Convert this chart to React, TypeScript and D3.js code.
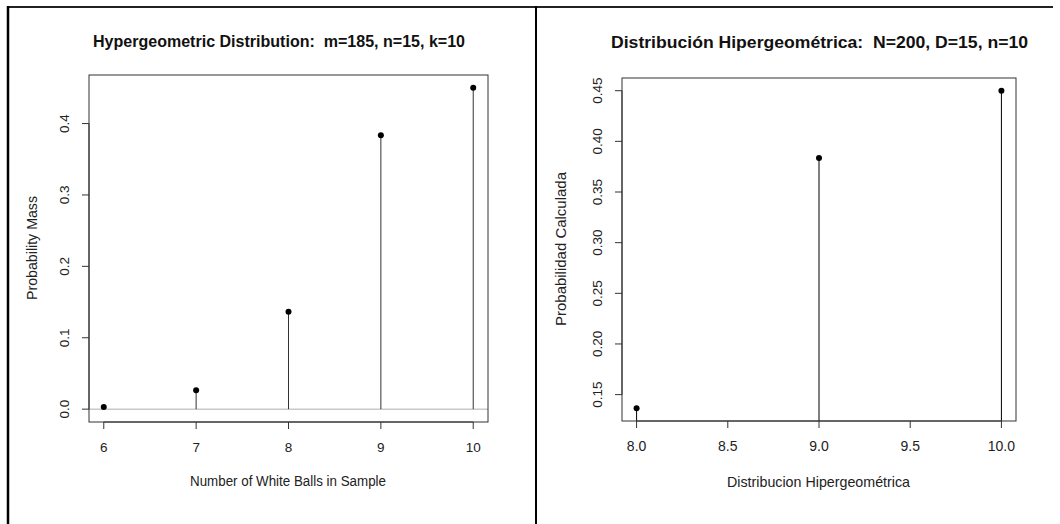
import React from 'react';
import * as d3 from 'd3';

// left panel data (hypergeometric pmf)
const leftX = [6, 7, 8, 9, 10];
const leftP = [0.0031, 0.0266, 0.1365, 0.3835, 0.45];
const leftXTicks = [6, 7, 8, 9, 10];
const leftYTicks = [0, 0.1, 0.2, 0.3, 0.4];

// right panel data
const rightX = [8, 9, 10];
const rightP = [0.1365, 0.3835, 0.45];
const rightXTicks = [8, 8.5, 9, 9.5, 10];
const rightYTicks = [0.15, 0.2, 0.25, 0.3, 0.35, 0.4, 0.45];

const FONT = '"Liberation Sans", Arial, sans-serif';

type Lab = { text: string; x: number; y: number; size: number; len: number };

type PanelProps = {
  box: { x0: number; x1: number; y0: number; y1: number };
  xs: number[];
  ps: number[];
  xTicks: number[];
  yTicks: number[];
  xFmt: (v: number) => string;
  yFmt: (v: number) => string;
  xDomain: [number, number];
  yDomain: [number, number];
  title: Lab;
  xlab: Lab;
  ylab: Lab;
  xTickSize: number;
  yTickSize: number;
  zeroLine?: boolean;
  stemColor: string;
};

function Panel(p: PanelProps) {
  const { box } = p;
  const x = d3.scaleLinear().domain(p.xDomain).range([box.x0, box.x1]);
  const y = d3.scaleLinear().domain(p.yDomain).range([box.y1, box.y0]);
  const tick = 7;
  const clipId = 'clip' + Math.round(box.x0);

  return (
    <g>
      <defs>
        <clipPath id={clipId}>
          <rect x={box.x0} y={box.y0} width={box.x1 - box.x0} height={box.y1 - box.y0} />
        </clipPath>
      </defs>
      <text
        x={p.title.x}
        y={p.title.y}
        textAnchor="middle"
        dominantBaseline="middle"
        fontFamily={FONT}
        fontWeight="bold"
        fontSize={p.title.size}
        textLength={p.title.len}
        lengthAdjust="spacingAndGlyphs"
        fill="#111"
        xmlSpace="preserve"
        style={{ whiteSpace: 'pre' }}
      >
        {p.title.text}
      </text>

      {p.zeroLine && (
        <line x1={box.x0} x2={box.x1} y1={y(0)} y2={y(0)} stroke="#c8c8c8" strokeWidth={1.5} />
      )}

      <g clipPath={`url(#${clipId})`}>
        {p.xs.map((v, i) => (
          <line key={'s' + i} x1={x(v)} x2={x(v)} y1={y(Math.max(0, p.yDomain[0] - 1))} y2={y(p.ps[i])} stroke={p.stemColor} strokeWidth={1} />
        ))}
      </g>
      {p.xs.map((v, i) => (
        <circle key={'c' + i} cx={x(v)} cy={y(p.ps[i])} r={3} fill="#000" />
      ))}

      <rect x={box.x0} y={box.y0} width={box.x1 - box.x0} height={box.y1 - box.y0} fill="none" stroke="#333" strokeWidth={1} />

      {/* x axis */}
      <line x1={x(p.xTicks[0])} x2={x(p.xTicks[p.xTicks.length - 1])} y1={box.y1} y2={box.y1} stroke="#333" />
      {p.xTicks.map((t) => (
        <g key={'xt' + t}>
          <line x1={x(t)} x2={x(t)} y1={box.y1} y2={box.y1 + tick} stroke="#333" />
          <text x={x(t)} y={box.y1 + 26} textAnchor="middle" dominantBaseline="middle" fontFamily={FONT} fontSize={p.xTickSize} fill="#222">
            {p.xFmt(t)}
          </text>
        </g>
      ))}

      {/* y axis */}
      <line x1={box.x0} x2={box.x0} y1={y(p.yTicks[0])} y2={y(p.yTicks[p.yTicks.length - 1])} stroke="#333" />
      {p.yTicks.map((t) => (
        <g key={'yt' + t}>
          <line x1={box.x0 - tick} x2={box.x0} y1={y(t)} y2={y(t)} stroke="#333" />
          <text
            transform={`translate(${box.x0 - 24},${y(t)}) rotate(-90)`}
            textAnchor="middle"
            dominantBaseline="middle"
            fontFamily={FONT}
            fontSize={p.yTickSize}
            fill="#222"
          >
            {p.yFmt(t)}
          </text>
        </g>
      ))}

      <text
        x={p.xlab.x}
        y={p.xlab.y}
        textAnchor="middle"
        dominantBaseline="middle"
        fontFamily={FONT}
        fontSize={p.xlab.size}
        textLength={p.xlab.len}
        lengthAdjust="spacingAndGlyphs"
        fill="#222"
      >
        {p.xlab.text}
      </text>
      <text
        transform={`translate(${p.ylab.x},${p.ylab.y}) rotate(-90)`}
        textAnchor="middle"
        dominantBaseline="middle"
        fontFamily={FONT}
        fontSize={p.ylab.size}
        textLength={p.ylab.len}
        lengthAdjust="spacingAndGlyphs"
        fill="#222"
      >
        {p.ylab.text}
      </text>
    </g>
  );
}

export default function App() {
  const W = 1060;
  const H = 524;
  const lx = d3.extent(leftX) as [number, number];
  const lp: [number, number] = [0, d3.max(leftP) as number];
  const rx = d3.extent(rightX) as [number, number];
  const rp = d3.extent(rightP) as [number, number];
  // R style 4% padding
  const pad = (e: [number, number]): [number, number] => {
    const d = (e[1] - e[0]) * 0.04;
    return [e[0] - d, e[1] + d];
  };

  return (
    <svg width={W} height={H} style={{ position: 'absolute', left: 0, top: 0, background: '#fff' }}>
      <rect width={W} height={H} fill="#fff" />
      {/* outer frame */}
      <line x1={7} x2={1053} y1={7} y2={7} stroke="#222" strokeWidth={2} />
      <line x1={8} x2={8} y1={6} y2={H} stroke="#000" strokeWidth={2.5} />
      <line x1={536} x2={536} y1={6} y2={H} stroke="#000" strokeWidth={2} />

      <Panel
        box={{ x0: 89, x1: 488, y0: 75, y1: 422 }}
        xs={leftX}
        ps={leftP}
        xTicks={leftXTicks}
        yTicks={leftYTicks}
        xFmt={d3.format('d')}
        yFmt={d3.format('.1f')}
        xDomain={pad(lx)}
        yDomain={pad(lp)}
        title={{ text: 'Hypergeometric Distribution:  m=185, n=15, k=10', x: 279, y: 43, size: 16.5, len: 372 }}
        xlab={{ text: 'Number of White Balls in Sample', x: 288, y: 482, size: 14, len: 196 }}
        ylab={{ text: 'Probability Mass', x: 33, y: 248, size: 14, len: 104 }}
        xTickSize={13.5}
        yTickSize={13.5}
        zeroLine
        stemColor="#333"
      />
      <Panel
        box={{ x0: 622, x1: 1016, y0: 78, y1: 421 }}
        xs={rightX}
        ps={rightP}
        xTicks={rightXTicks}
        yTicks={rightYTicks}
        xFmt={d3.format('.1f')}
        yFmt={d3.format('.2f')}
        xDomain={pad(rx)}
        yDomain={pad(rp)}
        title={{ text: 'Distribución Hipergeométrica:  N=200, D=15, n=10', x: 819.5, y: 44, size: 16.5, len: 417 }}
        xlab={{ text: 'Distribucion Hipergeométrica', x: 818.5, y: 483, size: 14.3, len: 183 }}
        ylab={{ text: 'Probabilidad Calculada', x: 562, y: 249, size: 14.5, len: 154 }}
        xTickSize={14}
        yTickSize={13.5}
        stemColor="#000"
      />
    </svg>
  );
}
